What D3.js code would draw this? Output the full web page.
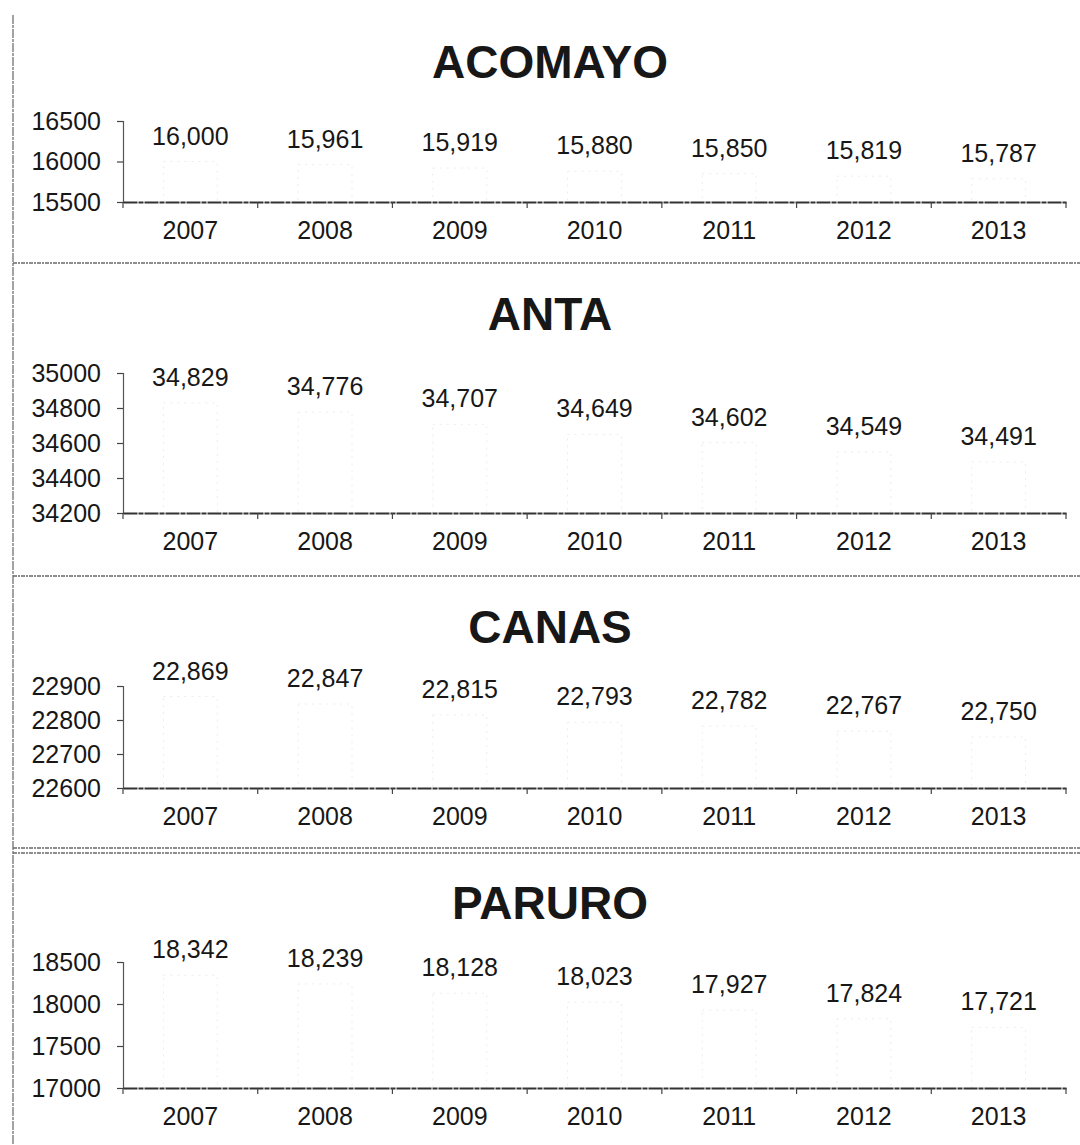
<!DOCTYPE html>
<html>
<head>
<meta charset="utf-8">
<script src="https://cdn.jsdelivr.net/npm/d3@7"></script>
<style>
  html, body { margin: 0; padding: 0; background: #fff; }
  svg { display: block; }
  text { font-family: "Liberation Sans", Arial, sans-serif; fill: #171717; }
</style>
</head>
<body>
<svg id="chart" width="1080" height="1145"></svg>
<script>
// Population by province, 2007-2013
const years = ["2007", "2008", "2009", "2010", "2011", "2012", "2013"];
const provinces = ["ACOMAYO", "ANTA", "CANAS", "PARURO"];
const acomayo = [16000, 15961, 15919, 15880, 15850, 15819, 15787];
const anta    = [34829, 34776, 34707, 34649, 34602, 34549, 34491];
const canas   = [22869, 22847, 22815, 22793, 22782, 22767, 22750];
const paruro  = [18342, 18239, 18128, 18023, 17927, 17824, 17721];
const acomayoTicks = [15500, 16000, 16500];
const antaTicks    = [34200, 34400, 34600, 34800, 35000];
const canasTicks   = [22600, 22700, 22800, 22900];
const paruroTicks  = [17000, 17500, 18000, 18500];

const seriesList = [acomayo, anta, canas, paruro];
const tickList = [acomayoTicks, antaTicks, canasTicks, paruroTicks];

// vertical placement of each panel's plot area: [top, baseline]
const plotRows = [[121, 202], [373, 513], [686, 788], [962, 1088]];
const plotLeft = 123, plotRight = 1066;

const svg = d3.select("#chart");
svg.append("rect").attr("width", 1080).attr("height", 1145).attr("fill", "#fff");

// frame: left border and panel separators
const frame = svg.append("g").attr("fill", "none");
frame.append("line").attr("x1", 13).attr("x2", 13).attr("y1", 15).attr("y2", 1145)
  .attr("stroke", "#666").attr("stroke-width", 1.2).attr("stroke-dasharray", "9,1,3,1");
[263, 576, 848, 853].forEach(y => {
  frame.append("line").attr("x1", 13).attr("x2", 1080).attr("y1", y).attr("y2", y)
    .attr("stroke", "#6a6a6a").attr("stroke-width", 1.3).attr("stroke-dasharray", "4,1,2,1");
});

const fmt = d3.format(",");

provinces.forEach((name, i) => {
  const values = seriesList[i];
  const ticks = tickList[i];
  const [top, base] = plotRows[i];

  const x = d3.scaleBand().domain(years).range([plotLeft, plotRight]).padding(0);
  const y = d3.scaleLinear().domain([ticks[0], ticks[ticks.length - 1]]).range([base, top]);
  const step = x.step();
  const barW = step * 0.4;

  const g = svg.append("g");

  // title
  g.append("text")
    .attr("x", 550).attr("y", top - 43)
    .attr("text-anchor", "middle")
    .attr("font-size", 46).attr("font-weight", "bold")
    .text(name);

  // bars (white, barely visible dotted outline)
  g.selectAll("rect.bar").data(values).join("rect")
    .attr("class", "bar")
    .attr("x", (d, j) => x(years[j]) + (step - barW) / 2)
    .attr("width", barW)
    .attr("y", d => y(d))
    .attr("height", d => base - y(d))
    .attr("fill", "#fff")
    .attr("stroke", "#ececec").attr("stroke-width", 1)
    .attr("stroke-dasharray", "2,5");

  // value labels
  g.selectAll("text.val").data(values).join("text")
    .attr("class", "val")
    .attr("x", (d, j) => x(years[j]) + step / 2)
    .attr("y", d => y(d) - 17)
    .attr("text-anchor", "middle")
    .attr("font-size", 25)
    .text(d => fmt(d));

  // y axis
  const yAxis = g.append("g")
    .attr("transform", `translate(${plotLeft},0)`)
    .call(d3.axisLeft(y).tickValues(ticks).tickFormat(d3.format("d")).tickSize(6).tickSizeOuter(6).tickPadding(16));
  yAxis.select(".domain").attr("stroke", "#555").attr("stroke-width", 1.2);
  yAxis.selectAll(".tick line").attr("stroke", "#444").attr("stroke-width", 1.2);
  yAxis.selectAll(".tick text").attr("font-size", 25).attr("fill", "#171717")
    .attr("font-family", "Liberation Sans, Arial, sans-serif");

  // x axis: category labels, separator ticks between categories
  const xAxis = g.append("g")
    .attr("transform", `translate(0,${base})`)
    .call(d3.axisBottom(x).tickSize(0).tickSizeOuter(0).tickPadding(19));
  xAxis.select(".domain").attr("stroke", "#333").attr("stroke-width", 2)
    .attr("stroke-dasharray", "14,1,5,1");
  xAxis.selectAll(".tick text").attr("font-size", 25).attr("fill", "#171717")
    .attr("font-family", "Liberation Sans, Arial, sans-serif");

  const bounds = years.map(c => x(c)).concat([plotRight]);
  g.selectAll("line.xt").data(bounds).join("line")
    .attr("class", "xt")
    .attr("x1", d => d).attr("x2", d => d)
    .attr("y1", base).attr("y2", base + 6)
    .attr("stroke", "#444").attr("stroke-width", 1.2);
});
</script>
</body>
</html>
